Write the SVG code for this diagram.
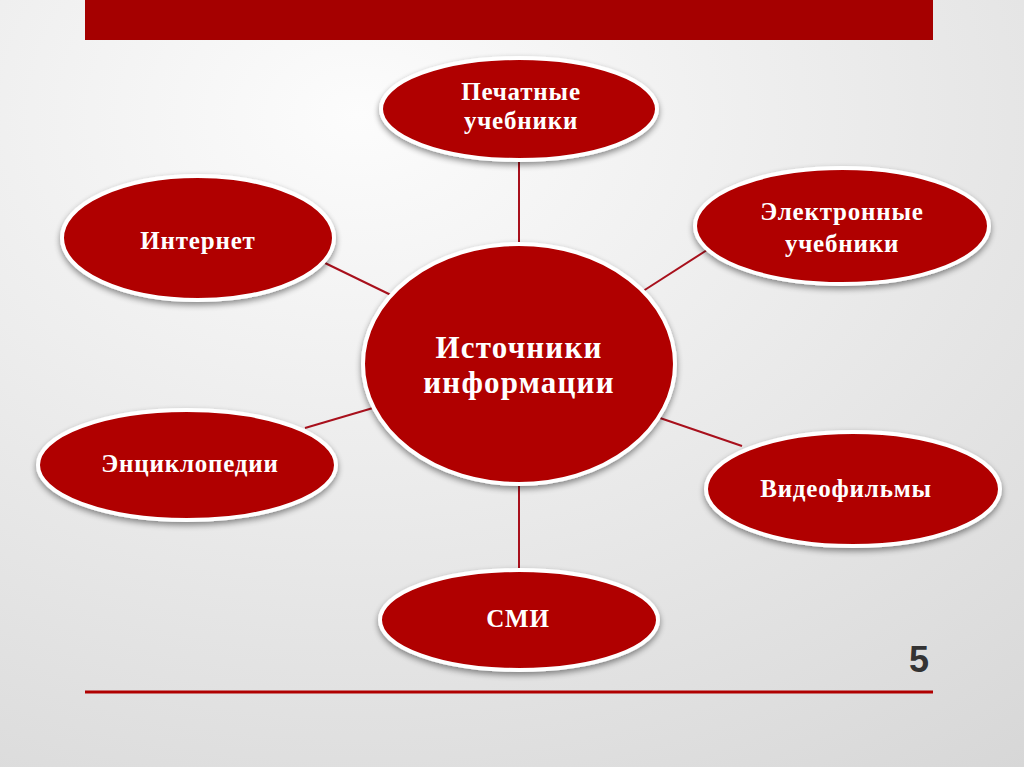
<svg xmlns="http://www.w3.org/2000/svg" width="1024" height="767" viewBox="0 0 1024 767">
<defs>
<radialGradient id="bg" cx="0.35" cy="0.15" r="1.1">
<stop offset="0" stop-color="#fcfcfc"/>
<stop offset="1" stop-color="#d6d6d6"/>
</radialGradient>
<filter id="sh" x="-20%" y="-20%" width="140%" height="150%">
<feGaussianBlur in="SourceAlpha" stdDeviation="3"/>
<feOffset dx="0" dy="3" result="b"/>
<feComponentTransfer><feFuncA type="linear" slope="0.45"/></feComponentTransfer>
<feMerge><feMergeNode/><feMergeNode in="SourceGraphic"/></feMerge>
</filter>
</defs>
<style>
.node{fill:#b00000;stroke:#ffffff;stroke-width:4;filter:url(#sh)}
.t{fill:#ffffff;font-family:"Liberation Serif","Times New Roman",serif;font-weight:bold;font-size:25px;letter-spacing:0.8px;text-anchor:middle}
.tc{font-size:31px;letter-spacing:1.2px}
.c{stroke:#a8101c;stroke-width:2;fill:none}
</style>
<rect width="1024" height="767" fill="url(#bg)"/>
<rect x="85" y="0" width="848" height="40" fill="#a50000"/>
<line x1="85" y1="692" x2="933" y2="692" stroke="#b00000" stroke-width="3"/>
<text x="919" y="672" font-family="Liberation Sans, Arial, sans-serif" font-weight="bold" font-size="36" fill="#333333" text-anchor="middle">5</text>
<g id="connectors">
<line class="c" x1="519" y1="160" x2="519" y2="244"/>
<line class="c" x1="519" y1="484" x2="519" y2="570"/>
<line class="c" x1="325" y1="263" x2="393" y2="296"/>
<line class="c" x1="640" y1="293" x2="707" y2="250"/>
<line class="c" x1="305" y1="428" x2="373" y2="408"/>
<line class="c" x1="660" y1="418" x2="742" y2="446"/>
</g>
<g id="center">
<ellipse class="node" cx="519" cy="364" rx="156" ry="120"/>
<text class="t tc" x="519" y="358">Источники</text>
<text class="t tc" x="519" y="393">информации</text>
</g>
<g id="printed">
<ellipse class="node" cx="519" cy="109" rx="138" ry="51"/>
<text class="t" x="521" y="100">Печатные</text>
<text class="t" x="521" y="129">учебники</text>
</g>
<g id="internet">
<ellipse class="node" cx="198" cy="238" rx="136" ry="62"/>
<text class="t" x="198" y="249">Интернет</text>
</g>
<g id="electronic">
<ellipse class="node" cx="842" cy="226" rx="147" ry="58"/>
<text class="t" x="842" y="220">Электронные</text>
<text class="t" x="842" y="252">учебники</text>
</g>
<g id="encyclopedia">
<ellipse class="node" cx="187" cy="465" rx="149" ry="55"/>
<text class="t" x="190" y="472">Энциклопедии</text>
</g>
<g id="video">
<ellipse class="node" cx="853" cy="489" rx="147" ry="57"/>
<text class="t" x="846" y="497">Видеофильмы</text>
</g>
<g id="media">
<ellipse class="node" cx="519" cy="620" rx="139" ry="50"/>
<text class="t" x="518" y="627">СМИ</text>
</g>
</svg>
